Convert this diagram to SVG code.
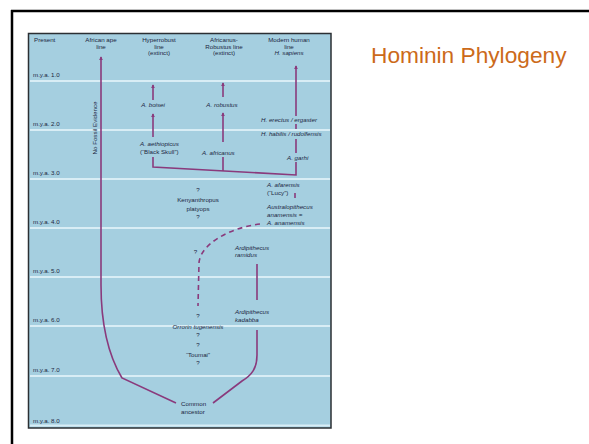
<svg xmlns="http://www.w3.org/2000/svg" width="589" height="444" viewBox="0 0 589 444">
<style>
text{font-family:"Liberation Sans",Arial,sans-serif;fill:#1b2640;font-size:6.2px}
.i{font-style:italic}
.c{text-anchor:middle}
.grid{stroke:#d8edf5;stroke-width:2}
.br{fill:none;stroke:#8a3a7c;stroke-width:1.6}
.ds{fill:none;stroke:#8a3a7c;stroke-width:1.6;stroke-dasharray:5 4}
</style>
<defs>
<marker id="ah" viewBox="0 0 6 6" refX="5" refY="3" markerWidth="4" markerHeight="4" orient="auto" markerUnits="userSpaceOnUse">
<path d="M0,0 L6,3 L0,6 Z" fill="#8a3a7c"/>
</marker>
</defs>
<rect width="589" height="444" fill="#fff"/>
<path d="M11,11 H589 M12,10 V444" stroke="#000" stroke-width="2.5" fill="none"/>
<text x="371" y="63" style="font-size:22.7px;fill:#cc6a1a">Hominin Phylogeny</text>

<g id="panel">
<rect x="28.5" y="33.5" width="302.5" height="394.5" fill="#a5cfe0" stroke="#2b2f33" stroke-width="1.5"/>
<path class="grid" d="M30,81 H330 M30,130 H330 M30,179 H330 M30,228 H330 M30,277 H330 M30,326 H330 M30,376 H330 M30,425.5 H330"/>
</g>
<g id="scale">
<text x="33" y="77">m.y.a. 1.0</text>
<text x="33" y="126">m.y.a. 2.0</text>
<text x="33" y="175">m.y.a. 3.0</text>
<text x="33" y="224">m.y.a. 4.0</text>
<text x="33" y="273">m.y.a. 5.0</text>
<text x="33" y="322">m.y.a. 6.0</text>
<text x="33" y="372">m.y.a. 7.0</text>
<text x="33" y="423">m.y.a. 8.0</text>
</g>
<g id="headers">
<text x="34" y="42">Present</text>
<text class="c" x="101" y="42">African ape</text>
<text class="c" x="101" y="48.5">line</text>
<text class="c" x="159" y="42">Hyperrobust</text>
<text class="c" x="159" y="48.5">line</text>
<text class="c" x="159" y="55">(extinct)</text>
<text class="c" x="224" y="42">Africanus-</text>
<text class="c" x="224" y="48.5">Robustus line</text>
<text class="c" x="224" y="55">(extinct)</text>
<text class="c" x="289" y="42">Modern human</text>
<text class="c" x="289" y="48.5">line</text>
<text class="c i" x="289" y="55">H. sapiens</text>
</g>

<g id="connectors">
<path class="br" d="M176,403 L122,378 C110,358 101,330 101,285 L101,57" marker-end="url(#ah)"/>
<path class="br" d="M153,100 V85" marker-end="url(#ah)"/>
<path class="br" d="M153,137 V114" marker-end="url(#ah)"/>
<path class="br" d="M153,157 V167 L296,175 V162"/>
<path class="br" d="M223,97 V83" marker-end="url(#ah)"/>
<path class="br" d="M223,142 V113" marker-end="url(#ah)"/>
<path class="br" d="M223,157 V171"/>
<path class="br" d="M296,116 V66" marker-end="url(#ah)"/>
<path class="br" d="M296,124 V129 M296,139 V153 M295,193 V198"/>
<path class="br" d="M257,264 V300 M257,330 V355 C257,368 252,375 242,381 L213,403"/>
<path class="ds" d="M260,224 C228,228 200,245 199,263 L198,306"/>
</g>

<g id="ape"><text transform="translate(96.5,128) rotate(-90)" class="c">No Fossil Evidence</text></g>
<g id="boisei"><text class="c i" x="153" y="107">A. boisei</text></g>
<g id="robustus"><text class="c i" x="222" y="107">A. robustus</text></g>
<g id="erectus"><text class="i" x="261" y="122">H. erectus / ergaster</text></g>
<g id="habilis"><text class="i" x="261" y="135.5">H. habilis / rudolfensis</text></g>
<g id="aethiopicus"><text class="i" x="140" y="146">A. aethiopicus</text><text x="140" y="154">(“Black Skull”)</text></g>
<g id="africanus"><text class="i" x="202" y="154.5">A. africanus</text></g>
<g id="garhi"><text class="i" x="287" y="160">A. garhi</text></g>
<g id="afarensis"><text class="i" x="267" y="187">A. afarensis</text><text x="267" y="195">(“Lucy”)</text></g>
<g id="anamensis"><text class="i" x="267" y="209">Australopithecus</text><text class="i" x="267" y="216.5">anamensis =</text><text class="i" x="267" y="225">A. anamensis</text></g>
<g id="kenyanthropus"><text class="c" x="198" y="192">?</text><text class="c" x="198" y="202">Kenyanthropus</text><text class="c" x="198" y="210.5">platyops</text><text class="c" x="198" y="219">?</text></g>
<g id="ramidus"><text class="i" x="235" y="249.5">Ardipithecus</text><text class="i" x="235" y="257">ramidus</text></g>
<g id="q1"><text class="c" x="195.5" y="254">?</text></g>
<g id="kadabba"><text class="i" x="235" y="313.5">Ardipithecus</text><text class="i" x="235" y="321.5">kadabba</text></g>
<g id="orrorin"><text class="c" x="198" y="318">?</text><text class="c i" x="198" y="328.5">Orrorin tugenensis</text><text class="c" x="198" y="337">?</text></g>
<g id="toumai"><text class="c" x="198" y="347">?</text><text class="c" x="198" y="357">“Toumai”</text><text class="c" x="198" y="365">?</text></g>
<g id="ancestor"><text x="181" y="405.5">Common</text><text x="181" y="414">ancestor</text></g>
</svg>
